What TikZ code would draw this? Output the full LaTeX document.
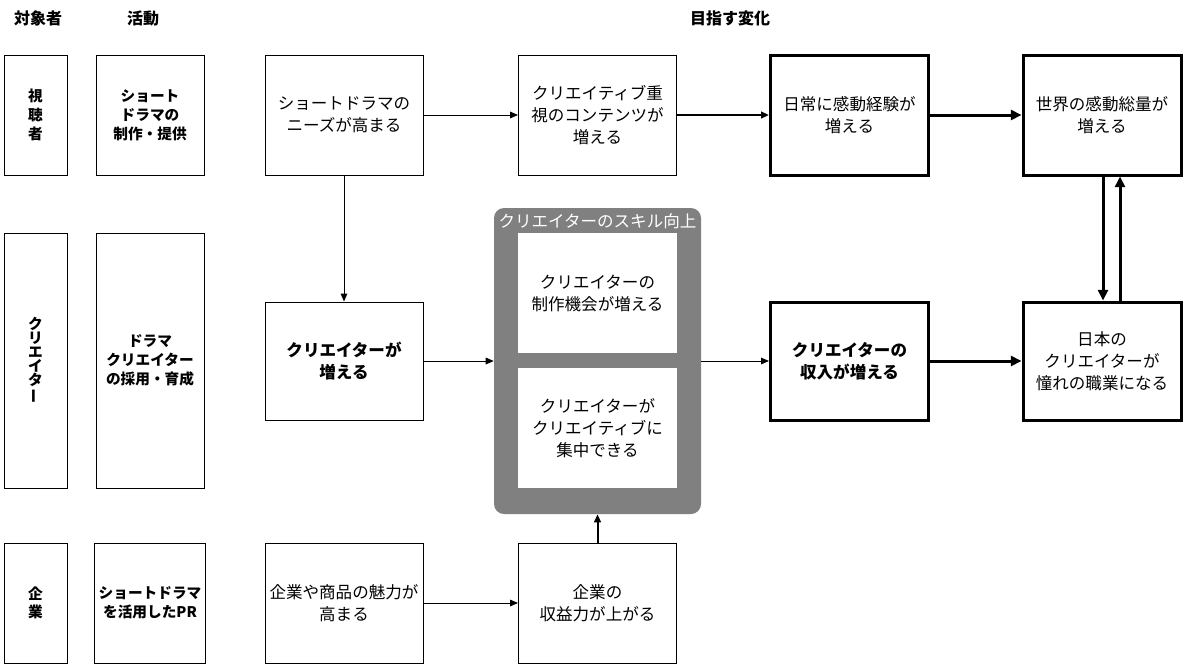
\documentclass[tikz,border=0pt]{standalone}
\usepackage{fontspec}
\setmainfont{Noto Sans CJK JP}
\usepackage{graphicx}
\usetikzlibrary{positioning, arrows.meta}
\definecolor{skillgray}{RGB}{128,128,128}

\begin{document}
\begin{tikzpicture}[x=0.75pt, y=-0.75pt,
    hdr/.style={font=\bfseries\fontsize{12}{14}\selectfont},
    tgtbox/.style={draw, line width=0.75pt, minimum width=47.25pt, align=center, font=\bfseries\fontsize{11}{14}\selectfont},
    actbox/.style={draw, line width=0.75pt, minimum width=81pt, align=center, font=\bfseries\fontsize{11}{14.25}\selectfont},
    box/.style={draw, line width=0.75pt, minimum width=118.5pt, minimum height=90pt, align=center, inner sep=1pt, font=\fontsize{12.4}{16.5}\selectfont},
    thickbox/.style={box, line width=2.25pt},
    skillbox/.style={fill=skillgray, rounded corners=7.5pt, minimum width=155.25pt, minimum height=229.5pt},
    innerbox/.style={fill=white, minimum width=119.25pt, minimum height=90pt, align=center, font=\fontsize{12.4}{16.5}\selectfont},
    arr/.style={-{Triangle[length=6pt, width=5pt]}, line width=0.75pt},
    arrthick/.style={-{Triangle[length=8pt, width=7.5pt]}, line width=2.25pt}]
    \useasboundingbox (0,0) rectangle (1184,664);

    % headers
    \node[hdr] (h1) at (38,18) {対象者};
    \node[hdr] (h2) at (143,18) {活動};
    \node[hdr] (h3) at (730,18) {目指す変化};

    % target groups
    \node[tgtbox, minimum height=90pt] (tgtview) at (35.5,115) {視\\聴\\者};
    \node[tgtbox, minimum height=191.25pt, font=\bfseries\fontsize{11}{10.5}\selectfont] (tgtcre) at (35.5,360.5) {ク\\リ\\エ\\イ\\タ\\\rotatebox[origin=c]{90}{ー}};
    \node[tgtbox, minimum height=90pt] (tgtcorp) at (35.5,603) {企\\業};

    % activities
    \node[actbox, minimum height=90pt] (actview) at (150,115) {ショート\\ドラマの\\制作・提供};
    \node[actbox, minimum height=191.25pt] (actcre) at (150,360.5) {ドラマ\\クリエイター\\の採用・育成};
    \node[actbox, minimum height=90pt] (actcorp) at (150,603) {ショートドラマ\\を活用したPR};

    % changes
    \node[box] (needs) at (344,115) {ショートドラマの\\ニーズが高まる};
    \node[box] (content) at (597.5,115) {クリエイティブ重\\視のコンテンツが\\増える};
    \node[thickbox] (daily) at (849.5,115) {日常に感動経験が\\増える};
    \node[thickbox] (world) at (1102,115) {世界の感動総量が\\増える};

    \node[box, minimum height=88.5pt, font=\bfseries\fontsize{12.4}{16.5}\selectfont] (creinc) at (344,361) {クリエイターが\\増える};
    \node[skillbox] (skill) at (597.5,361) {};
    \node[font=\fontsize{12.4}{14}\selectfont, text=white] (skilltitle) at (597.5,221) {クリエイターのスキル向上};
    \node[innerbox] (chance) at (597.5,293) {クリエイターの\\制作機会が増える};
    \node[innerbox] (focus) at (597.5,428) {クリエイターが\\クリエイティブに\\集中できる};
    \node[thickbox, minimum height=88.5pt, font=\bfseries\fontsize{12.4}{16.5}\selectfont] (income) at (849.5,361) {クリエイターの\\収入が増える};
    \node[thickbox, minimum height=88.5pt] (japan) at (1102,361) {日本の\\クリエイターが\\憧れの職業になる};

    \node[box] (appeal) at (344,603) {企業や商品の魅力が\\高まる};
    \node[box] (profit) at (597.5,603) {企業の\\収益力が上がる};

    % connectors
    \draw[arr] (needs) -- (content);
    \draw[arr, line width=1.5pt] (content) -- (daily);
    \draw[arrthick] (daily) -- (world);
    \draw[arr] (needs) -- (creinc);
    \draw[arr] (creinc) -- (skill);
    \draw[arr] (skill) -- (income);
    \draw[arrthick] (income) -- (japan);
    \draw[arrthick] ([xshift=0.75pt]world.south) -- ([xshift=0.75pt]japan.north);
    \draw[arrthick] ([xshift=13.5pt]japan.north) -- ([xshift=13.5pt]world.south);
    \draw[arr] (appeal) -- (profit);
    \draw[arr, line width=1.5pt] (profit) -- (skill);
\end{tikzpicture}
\end{document}
